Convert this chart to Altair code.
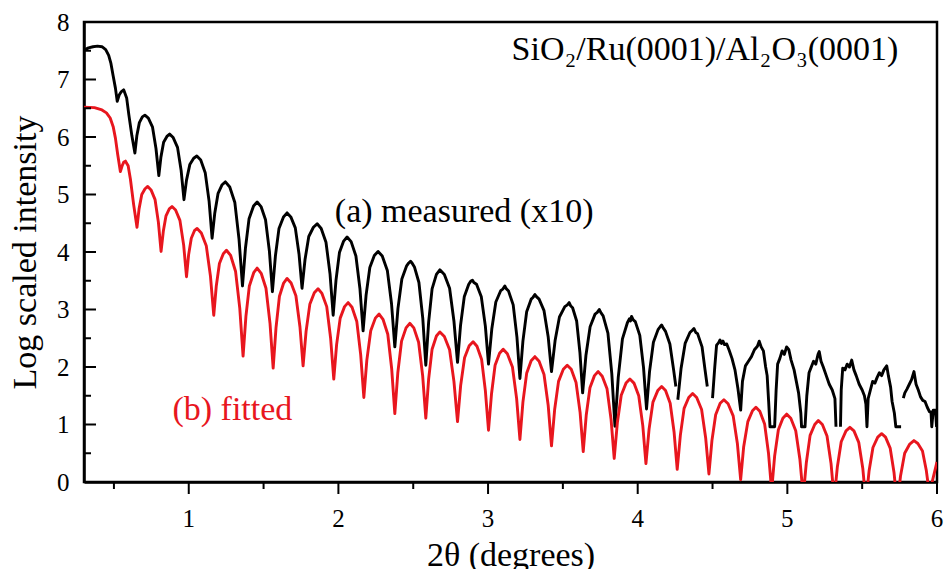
import altair as alt
import pandas as pd

# ---- measured (x10), black; None marks a gap in the recorded data ----
meas_x = [
    0.30, 0.33, 0.36, 0.39, 0.42, 0.445, 0.465, 0.48, 0.495, 0.51, 0.522,
    0.535, 0.55, 0.565, 0.585, 0.60, 0.62, 0.640,
    0.653, 0.670, 0.690, 0.707, 0.730, 0.758, 0.781, 0.800,
    0.814, 0.832, 0.854, 0.872, 0.896, 0.925, 0.949, 0.968,
    0.985, 1.007, 1.033, 1.054, 1.080, 1.110, 1.136, 1.156,
    1.174, 1.196, 1.223, 1.245, 1.274, 1.308, 1.336, 1.359,
    1.379, 1.403, 1.433, 1.457, 1.483, 1.513, 1.539, 1.559,
    1.579, 1.603, 1.633, 1.657, 1.682, 1.712, 1.737, 1.757,
    1.777, 1.802, 1.833, 1.858, 1.885, 1.917, 1.944, 1.965,
    1.984, 2.007, 2.035, 2.058, 2.085, 2.117, 2.144, 2.165,
    2.185, 2.210, 2.240, 2.265, 2.293, 2.327, 2.355, 2.377,
    2.398, 2.424, 2.456, 2.470, 2.482, 2.494, 2.508, 2.538, 2.564, 2.584,
    2.603, 2.626, 2.655, 2.678, 2.708, 2.743, 2.772, 2.796,
    2.816, 2.841, 2.871, 2.884, 2.896, 2.905, 2.923, 2.955, 2.982, 3.003,
    3.025, 3.052, 3.085, 3.100, 3.112, 3.122, 3.137, 3.168, 3.193, 3.213,
    3.233, 3.258, 3.288, 3.300, 3.313, 3.325, 3.341, 3.374, 3.402, 3.424,
    3.448, 3.477, 3.513, 3.530, 3.542, 3.553, 3.565, 3.592, 3.614, 3.632,
    3.654, 3.682, 3.715, 3.730, 3.743, 3.755, 3.769, 3.801, 3.827, 3.848,
    3.870, 3.898, 3.931, 3.945, 3.952, 3.959, 3.970, 3.984, 4.014, 4.039, 4.059,
    4.079, 4.105, 4.136, 4.150, 4.160, 4.170, 4.186, 4.215, 4.240, 4.255,
    None,
    4.268, 4.290, 4.317, 4.349, 4.365, 4.376, 4.388, 4.40, 4.43, 4.45, 4.465,
    None,
    4.50, 4.515, 4.527, 4.54, 4.55, 4.56, 4.57, 4.58, 4.595, 4.61, 4.63, 4.65, 4.67, 4.688,
    4.70, 4.72, 4.74, 4.76, 4.78, 4.80, 4.812, 4.825, 4.84, 4.855, 4.865, 4.875, 4.884, 4.915,
    4.925, 4.935, 4.95, 4.965, 4.98, 4.995, 5.01, 5.025, 5.045, 5.06, 5.075, 5.09, 5.095, 5.118,
    5.13, 5.145, 5.16, 5.175, 5.19, 5.205, 5.213, 5.225, 5.24, 5.26, 5.28, 5.30, 5.318, 5.325,
    None,
    5.355, 5.36, 5.37, 5.385, 5.40, 5.415, 5.43, 5.445, 5.46, 5.48, 5.50, 5.515, 5.525, 5.532,
    5.54, 5.555, 5.57, 5.585, 5.60, 5.615, 5.63, 5.645, 5.664, 5.675, 5.69, 5.70, 5.715, 5.725, 5.76,
    None,
    5.775, 5.785, 5.80, 5.815, 5.83, 5.846, 5.86, 5.875, 5.89, 5.905, 5.92, 5.935, 5.95, 5.96,
    5.965, 5.975, 5.99, 5.997,
]
meas_y = [
    7.51, 7.55, 7.57, 7.58, 7.57, 7.52, 7.42, 7.28, 7.06, 6.85, 6.62,
    6.73, 6.79, 6.82, 6.68, 6.38, 6.02, 5.72,
    6.02, 6.25, 6.35, 6.38, 6.33, 6.17, 5.80, 5.33,
    5.65, 5.91, 6.01, 6.05, 5.99, 5.82, 5.42, 4.91,
    5.25, 5.52, 5.63, 5.67, 5.60, 5.38, 4.88, 4.24,
    4.68, 5.02, 5.17, 5.22, 5.13, 4.86, 4.22, 3.41,
    4.07, 4.58, 4.80, 4.87, 4.79, 4.56, 4.01, 3.31,
    3.93, 4.41, 4.61, 4.68, 4.61, 4.42, 3.96, 3.37,
    3.87, 4.27, 4.43, 4.49, 4.41, 4.17, 3.62, 2.90,
    3.51, 3.99, 4.19, 4.26, 4.18, 3.93, 3.36, 2.63,
    3.25, 3.73, 3.94, 4.01, 3.93, 3.68, 3.10, 2.35,
    3.02, 3.53, 3.76, 3.81, 3.84, 3.80, 3.74, 3.47, 2.84, 2.03,
    2.78, 3.36, 3.61, 3.69, 3.61, 3.37, 2.80, 2.08,
    2.72, 3.22, 3.44, 3.49, 3.51, 3.47, 3.44, 3.22, 2.71, 2.05,
    2.66, 3.13, 3.33, 3.36, 3.41, 3.36, 3.32, 3.08, 2.52, 1.80,
    2.45, 2.96, 3.18, 3.21, 3.26, 3.22, 3.18, 2.98, 2.52, 1.92,
    2.46, 2.87, 3.05, 3.08, 3.12, 3.06, 3.03, 2.80, 2.25, 1.55,
    2.20, 2.70, 2.92, 2.95, 3.00, 2.94, 2.89, 2.59, 1.88, 0.97,
    1.82, 2.49, 2.77, 2.84, 2.80, 2.88, 2.82, 2.79, 2.55, 1.99, 1.27,
    1.92, 2.43, 2.65, 2.70, 2.73, 2.68, 2.62, 2.40, 1.95, 1.66,
    None,
    1.43, 1.98, 2.41, 2.60, 2.64, 2.67, 2.60, 2.58, 2.35, 1.95, 1.66,
    None,
    1.46, 2.00, 2.38, 2.42, 2.47, 2.41, 2.45, 2.39, 2.40, 2.30, 2.15, 1.95, 1.62, 1.25,
    1.75, 2.02, 2.10, 2.18, 2.30, 2.36, 2.45, 2.35, 2.28, 2.00, 1.85, 1.40, 0.96, 0.96,
    1.60, 2.05, 2.15, 2.28, 2.22, 2.35, 2.30, 2.12, 1.95, 1.75, 1.55, 1.20, 0.96, 0.96,
    1.50, 1.90, 2.00, 2.10, 2.05, 2.22, 2.27, 2.10, 2.00, 1.85, 1.70, 1.60, 1.45, 0.96,
    None,
    0.96, 1.60, 1.98, 1.95, 2.05, 2.00, 2.12, 1.95, 1.85, 1.70, 1.60, 1.50, 1.35, 0.96,
    1.45, 1.60, 1.75, 1.72, 1.82, 1.90, 1.85, 1.95, 2.02, 1.85, 1.65, 1.40, 1.20, 0.96, 0.96,
    None,
    1.46, 1.55, 1.62, 1.70, 1.78, 1.92, 1.70, 1.60, 1.48, 1.42, 1.40, 1.30, 1.22, 1.22,
    0.96, 1.25, 1.25, 0.96,
]

# ---- fitted, red ----
fit_x = [
    0.30, 0.37, 0.42, 0.45, 0.475, 0.495, 0.51, 0.525, 0.543,
    0.555, 0.565, 0.577, 0.595, 0.61, 0.632, 0.654,
    0.668, 0.686, 0.708, 0.726, 0.748, 0.775, 0.797, 0.815,
    0.830, 0.848, 0.870, 0.888, 0.912, 0.941, 0.966, 0.985,
    0.999, 1.017, 1.038, 1.056, 1.084, 1.117, 1.145, 1.167,
    1.184, 1.205, 1.231, 1.252, 1.280, 1.313, 1.341, 1.363,
    1.382, 1.405, 1.434, 1.457, 1.484, 1.516, 1.543, 1.564,
    1.583, 1.606, 1.634, 1.657, 1.684, 1.716, 1.743, 1.764,
    1.784, 1.809, 1.839, 1.864, 1.890, 1.922, 1.948, 1.969,
    1.988, 2.012, 2.041, 2.065, 2.091, 2.123, 2.149, 2.170,
    2.190, 2.216, 2.247, 2.272, 2.298, 2.330, 2.356, 2.377,
    2.397, 2.422, 2.452, 2.477, 2.504, 2.536, 2.563, 2.584,
    2.603, 2.626, 2.655, 2.678, 2.708, 2.743, 2.772, 2.796,
    2.817, 2.843, 2.874, 2.900, 2.926, 2.957, 2.982, 3.003,
    3.023, 3.047, 3.077, 3.101, 3.129, 3.163, 3.191, 3.213,
    3.233, 3.258, 3.288, 3.313, 3.341, 3.374, 3.402, 3.424,
    3.445, 3.471, 3.503, 3.529, 3.556, 3.588, 3.615, 3.636,
    3.656, 3.681, 3.711, 3.736, 3.763, 3.795, 3.822, 3.843,
    3.864, 3.890, 3.922, 3.948, 3.975, 4.007, 4.034, 4.055,
    4.076, 4.102, 4.134, 4.160, 4.186, 4.217, 4.243, 4.264,
    4.285, 4.310, 4.341, 4.367, 4.394, 4.427, 4.454, 4.476,
    4.496, 4.521, 4.551, 4.576, 4.604, 4.638, 4.666, 4.688,
    4.708, 4.736, 4.767, 4.790, 4.816, 4.848, 4.874, 4.895,
    4.915, 4.940, 4.970, 4.995, 5.023, 5.056, 5.084, 5.106,
    5.127, 5.152, 5.183, 5.207, 5.234, 5.265, 5.292, 5.313,
    5.334, 5.360, 5.392, 5.418, 5.445, 5.477, 5.504, 5.525,
    5.546, 5.572, 5.604, 5.630, 5.656, 5.687, 5.713, 5.734,
    5.756, 5.784, 5.818, 5.846, 5.872, 5.903, 5.928, 5.949,
    6.00,
]
fit_y = [
    6.52, 6.51, 6.47, 6.42, 6.33, 6.18, 5.98, 5.70, 5.40,
    5.50, 5.56, 5.58, 5.50, 5.27, 4.82, 4.43,
    4.75, 5.00, 5.10, 5.14, 5.08, 4.91, 4.52, 4.01,
    4.36, 4.63, 4.75, 4.79, 4.73, 4.55, 4.12, 3.57,
    3.95, 4.24, 4.37, 4.41, 4.33, 4.11, 3.58, 2.90,
    3.41, 3.80, 3.97, 4.03, 3.94, 3.66, 3.02, 2.19,
    2.88, 3.41, 3.64, 3.72, 3.63, 3.37, 2.76, 1.98,
    2.68, 3.23, 3.46, 3.54, 3.46, 3.24, 2.70, 2.02,
    2.62, 3.09, 3.29, 3.36, 3.28, 3.05, 2.50, 1.79,
    2.39, 2.85, 3.05, 3.12, 3.04, 2.79, 2.21, 1.47,
    2.12, 2.63, 2.85, 2.92, 2.83, 2.57, 1.97, 1.19,
    1.90, 2.45, 2.68, 2.76, 2.68, 2.43, 1.85, 1.11,
    1.79, 2.31, 2.54, 2.61, 2.53, 2.30, 1.75, 1.05,
    1.68, 2.16, 2.37, 2.44, 2.36, 2.13, 1.59, 0.90,
    1.53, 2.03, 2.24, 2.31, 2.23, 2.00, 1.45, 0.74,
    1.39, 1.89, 2.11, 2.18, 2.10, 1.87, 1.33, 0.63,
    1.26, 1.75, 1.96, 2.03, 1.96, 1.73, 1.21, 0.53,
    1.16, 1.64, 1.85, 1.92, 1.84, 1.62, 1.09, 0.41,
    1.03, 1.51, 1.72, 1.79, 1.72, 1.50, 0.98, 0.32,
    0.92, 1.39, 1.59, 1.66, 1.59, 1.37, 0.87, 0.22,
    0.81, 1.28, 1.47, 1.54, 1.47, 1.26, 0.77, 0.14,
    0.72, 1.17, 1.37, 1.43, 1.36, 1.15, 0.67, 0.04,
    0.61, 1.05, 1.24, 1.30, 1.23, 1.01, 0.50, -0.15,
    0.45, 0.91, 1.11, 1.18, 1.11, 0.89, 0.39, -0.25,
    0.34, 0.81, 1.00, 1.07, 1.00, 0.80, 0.32, -0.30,
    0.26, 0.70, 0.89, 0.95, 0.89, 0.69, 0.24, -0.35,
    0.19, 0.60, 0.78, 0.84, 0.78, 0.59, 0.16, -0.40,
    0.10, 0.50, 0.66, 0.72, 0.67, 0.54, 0.21, -0.20,
    0.35,
]

x_major = [1, 2, 3, 4, 5, 6]
x_minor = [0.5, 1.5, 2.5, 3.5, 4.5, 5.5]
y_major = [0, 1, 2, 3, 4, 5, 6, 7, 8]
y_inner_major = [1, 2, 3, 4, 5, 6, 7]
y_minor = [0.5, 1.5, 2.5, 3.5, 4.5, 5.5, 6.5, 7.5]

meas_rows = []
seg = 0
for xv, yv in zip(meas_x, meas_y):
    if xv is None:
        seg += 1
        continue
    meas_rows.append({"x": xv, "y": yv, "seg": seg})
df_meas = pd.DataFrame(meas_rows)
df_fit = pd.DataFrame({"x": fit_x, "y": fit_y})

FONT = "Liberation Serif"
RED = "#e8161e"
W, H = 853, 460
xs = alt.Scale(domain=[0.3, 6], nice=False, zero=False)
ys = alt.Scale(domain=[0, 8], nice=False, zero=False)
xaxis = alt.Axis(values=x_major, title="2θ (degrees)", labels=False,
                 titleY=83, titleBaseline="alphabetic")
yaxis = alt.Axis(values=y_major, title="Log scaled intensity", labelPadding=15,
                 labelFlush=False, titleX=-49, titleBaseline="alphabetic")

meas_line = alt.Chart(df_meas).mark_line(
    clip=True, color="black", strokeWidth=2.9, strokeJoin="round").encode(
    x=alt.X("x:Q", scale=xs, axis=xaxis),
    y=alt.Y("y:Q", scale=ys, axis=yaxis),
    detail="seg:N",
)
fit_line = alt.Chart(df_fit).mark_line(
    clip=True, color=RED, strokeWidth=2.9, strokeJoin="round").encode(
    x=alt.X("x:Q", scale=xs, axis=xaxis),
    y=alt.Y("y:Q", scale=ys, axis=yaxis),
)

xt_major = alt.Chart(pd.DataFrame({"x": x_major})).mark_rule(color="black", strokeWidth=2).encode(
    x=alt.X("x:Q", scale=xs, axis=xaxis), y=alt.value(H), y2=alt.value(H + 12))
xt_minor = alt.Chart(pd.DataFrame({"x": x_minor})).mark_rule(color="black", strokeWidth=2).encode(
    x=alt.X("x:Q", scale=xs, axis=xaxis), y=alt.value(H), y2=alt.value(H + 7))
yt_major = alt.Chart(pd.DataFrame({"y": y_inner_major})).mark_rule(color="black", strokeWidth=2).encode(
    y=alt.Y("y:Q", scale=ys, axis=yaxis), x=alt.value(0), x2=alt.value(12))
yt_minor = alt.Chart(pd.DataFrame({"y": y_minor})).mark_rule(color="black", strokeWidth=2).encode(
    y=alt.Y("y:Q", scale=ys, axis=yaxis), x=alt.value(0), x2=alt.value(7))

x_labels = alt.Chart(pd.DataFrame({"x": x_major, "t": [str(v) for v in x_major]})).mark_text(
    font=FONT, fontSize=25, baseline="alphabetic", align="center", color="black").encode(
    x=alt.X("x:Q", scale=xs, axis=xaxis), y=alt.value(H + 45), text="t:N")

def label(text, xv, yv, color):
    return alt.Chart(pd.DataFrame({"x": [xv], "y": [yv]})).mark_text(
        text=text, font=FONT, fontSize=34, align="left", baseline="alphabetic",
        color=color).encode(
        x=alt.X("x:Q", scale=xs, axis=xaxis), y=alt.Y("y:Q", scale=ys, axis=yaxis))

txt_meas = label("(a) measured (x10)", 1.976, 4.52, "black")
txt_fit = label("(b) fitted", 0.891, 1.08, RED)
txt_sample = label("SiO₂/Ru(0001)/Al₂O₃(0001)", 3.157, 7.34, "black")

chart = alt.layer(
    meas_line, fit_line, xt_major, xt_minor, yt_major, yt_minor, x_labels,
    txt_meas, txt_fit, txt_sample
).properties(
    width=W, height=H,
    padding={"left": 84, "top": 22, "right": 10, "bottom": 87},
    autosize=alt.AutoSizeParams(type="none"),
    background="white",
).configure_view(
    stroke="black", strokeWidth=2.5
).configure_axis(
    domain=True, domainColor="black", domainWidth=2.5, grid=False, ticks=False, tickSize=0,
    labelFont=FONT, labelFontSize=25, labelColor="black",
    titleFont=FONT, titleFontSize=34, titleFontWeight="normal", titleColor="black",
)

chart.save("out.html", embed_options={"renderer": "svg", "actions": False})
